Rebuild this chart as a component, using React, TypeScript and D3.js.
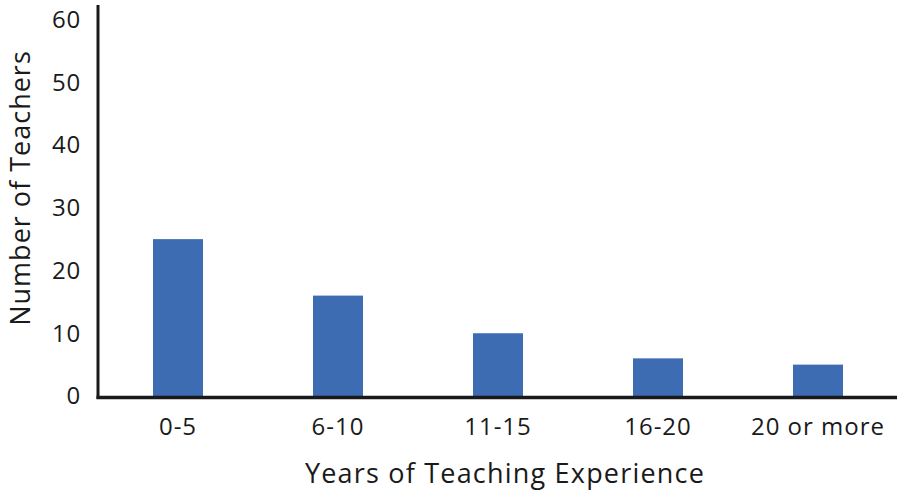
import React, { useEffect, useRef } from 'react';
import * as d3 from 'd3';

const categories = ['0-5', '6-10', '11-15', '16-20', '20 or more'];
const teachers = [25, 16, 10, 6, 5];
const yTicks = [0, 10, 20, 30, 40, 50, 60];

const App = () => {
    const svgRef = useRef<SVGSVGElement>(null);

    useEffect(() => {
        const width = 904;
        const height = 497;
        const font = '"Open Sans", sans-serif';

        const x = d3.scaleBand()
            .domain(categories)
            .range([98, 898])
            .paddingInner(0.6875)
            .paddingOuter(0.34375);

        const y = d3.scaleLinear()
            .domain([0, 60])
            .range([396, 19.5]);

        const svg = d3.select(svgRef.current);
        svg.selectAll('*').remove();
        svg.attr('width', width).attr('height', height);

        // bars
        svg.append('g')
            .selectAll('rect')
            .data(teachers)
            .join('rect')
            .attr('x', (_, i) => x(categories[i]))
            .attr('width', x.bandwidth())
            .attr('y', (d) => y(d))
            .attr('height', (d) => y(0) - y(d))
            .attr('fill', '#3d6cb3');

        // y axis line
        svg.append('line')
            .attr('x1', 98).attr('x2', 98)
            .attr('y1', 5).attr('y2', 399)
            .attr('stroke', '#1a1a1a')
            .attr('stroke-width', 3);

        // x axis line
        svg.append('line')
            .attr('x1', 96.5).attr('x2', 897)
            .attr('y1', 397.5).attr('y2', 397.5)
            .attr('stroke', '#1a1a1a')
            .attr('stroke-width', 3.5);

        // y tick labels
        svg.append('g')
            .selectAll('text')
            .data(yTicks)
            .join('text')
            .attr('x', 81)
            .attr('y', (d) => y(d))
            .attr('dy', '0.35em')
            .attr('text-anchor', 'end')
            .style('font-family', font)
            .style('font-size', '24px')
            .style('letter-spacing', '0.8px')
            .attr('fill', '#1a1a1a')
            .text((d) => d);

        // x tick labels
        svg.append('g')
            .selectAll('text')
            .data(categories)
            .join('text')
            .attr('x', (d) => x(d) + x.bandwidth() / 2)
            .attr('y', 435)
            .attr('text-anchor', 'middle')
            .style('font-family', font)
            .style('font-size', '24px')
            .style('letter-spacing', '1px')
            .attr('fill', '#1a1a1a')
            .text((d) => d);

        // axis titles
        svg.append('text')
            .attr('x', 505)
            .attr('y', 483)
            .attr('text-anchor', 'middle')
            .style('font-family', font)
            .style('font-size', '27px')
            .style('letter-spacing', '1.2px')
            .attr('fill', '#1a1a1a')
            .text('Years of Teaching Experience');

        svg.append('text')
            .attr('transform', 'translate(30, 188) rotate(-90)')
            .attr('text-anchor', 'middle')
            .style('font-family', font)
            .style('font-size', '27px')
            .style('letter-spacing', '1px')
            .attr('fill', '#1a1a1a')
            .text('Number of Teachers');
    }, []);

    return (
        <svg ref={svgRef} style={{ position: 'absolute', left: 0, top: 0 }}></svg>
    );
};

export default App;
